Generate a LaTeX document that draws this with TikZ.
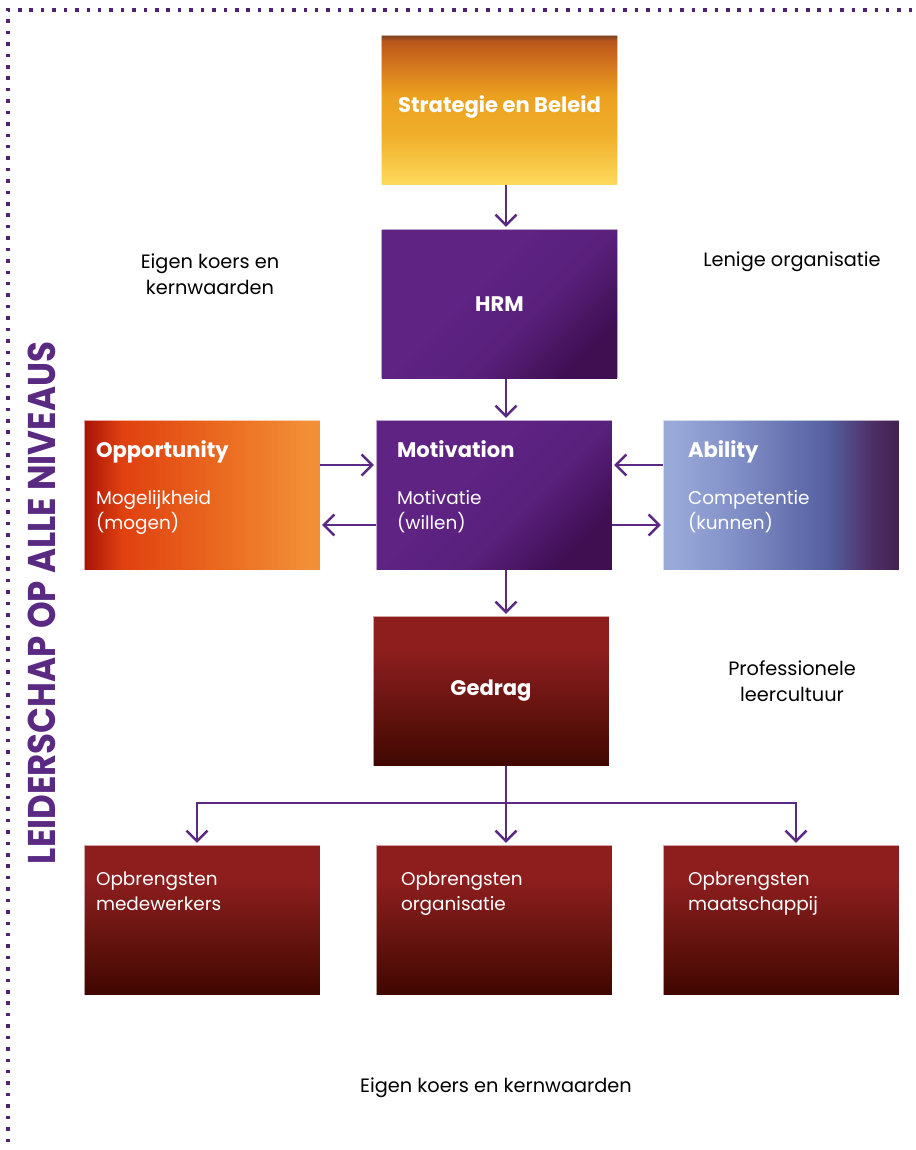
\documentclass[tikz,border=0pt]{standalone}
\usepackage{fontspec}
\setmainfont{Poppins}
\usetikzlibrary{arrows.meta}

\definecolor{lila}{HTML}{5A2A82}
\definecolor{stiplila}{HTML}{4E2372}
\definecolor{geel}{HTML}{FFDA5C}
\definecolor{goud}{HTML}{F0AE2A}
\definecolor{oranjeA}{HTML}{ECA020}
\definecolor{oranjeB}{HTML}{C8661C}
\definecolor{bruinA}{HTML}{B8561C}
\definecolor{bruinB}{HTML}{7A3E20}
\definecolor{paarsA}{HTML}{5E2383}
\definecolor{paarsB}{HTML}{3F0F52}
\definecolor{roodA}{HTML}{A81308}
\definecolor{roodB}{HTML}{E0400F}
\definecolor{oranjeC}{HTML}{EC7224}
\definecolor{oranjeD}{HTML}{F28E36}
\definecolor{blauwA}{HTML}{9AAAD8}
\definecolor{blauwB}{HTML}{8290C8}
\definecolor{blauwC}{HTML}{5460A0}
\definecolor{blauwD}{HTML}{4E3068}
\definecolor{blauwE}{HTML}{432050}
\definecolor{wijnA}{HTML}{8E1E1E}
\definecolor{wijnB}{HTML}{761816}
\definecolor{wijnC}{HTML}{5A100A}
\definecolor{wijnD}{HTML}{400600}

% kleurverlopen van de blokken
\pgfdeclareverticalshading{strategie}{100bp}{color(0bp)=(geel); color(25bp)=(geel);
  color(42bp)=(goud); color(55bp)=(oranjeA); color(69bp)=(oranjeB);
  color(73bp)=(bruinA); color(75bp)=(bruinB); color(100bp)=(bruinB)}
\pgfdeclareverticalshading{paars}{100bp}{color(0bp)=(paarsB); color(25bp)=(paarsB);
  color(42bp)=(paarsA!85!paarsB); color(58bp)=(paarsA); color(100bp)=(paarsA)}
\pgfdeclarehorizontalshading{kans}{100bp}{color(0bp)=(roodA); color(25bp)=(roodA);
  color(33bp)=(roodB); color(58bp)=(oranjeC); color(72bp)=(oranjeD); color(100bp)=(oranjeD)}
\pgfdeclarehorizontalshading{kunde}{100bp}{color(0bp)=(blauwA); color(27bp)=(blauwA);
  color(40bp)=(blauwB); color(60bp)=(blauwC); color(69bp)=(blauwD); color(75bp)=(blauwE);
  color(100bp)=(blauwE)}
\pgfdeclareverticalshading{wijn}{100bp}{color(0bp)=(wijnD); color(25bp)=(wijnD);
  color(38bp)=(wijnC); color(52bp)=(wijnB); color(64bp)=(wijnA); color(100bp)=(wijnA)}

\begin{document}
\begin{tikzpicture}[x=0.02cm, y=-0.02cm,
  blok/.style={rectangle, minimum width=4.72cm, minimum height=3cm, inner sep=0pt,
    draw=white, draw opacity=0.6, line width=0.4pt},
  pijl/.style={draw=lila, line width=1.4pt, shorten >=1pt,
    -{Straight Barb[length=6pt,width=12pt]}},
  lijn/.style={draw=lila, line width=1.4pt},
  kop/.style={text=white, inner sep=0pt, font=\bfseries\fontsize{12}{14}\selectfont},
  sub/.style={text=white, inner sep=0pt, align=left, anchor=north west,
    font=\fontsize{10.5}{14.2}\selectfont},
  zij/.style={text=black, inner sep=0pt, align=center,
    font=\fontsize{11}{14.8}\selectfont}]
\useasboundingbox (0,0) rectangle (916,1150);

% stippelrand
\draw [stiplila, line width=2pt, dash pattern=on 2pt off 4.5pt] (8,1142) -- (8,10) -- (916,10);
\node [rotate=90, text=lila, inner sep=0pt, font=\bfseries\fontsize{22}{22}\selectfont] (leider)
  at (42,603) {\scalebox{0.88}[1]{LEIDERSCHAP OP ALLE NIVEAUS}};

% blokken
\node [blok, shading=strategie] (strat) at (499.5,110) {};
\node [blok, shading=paars, shading angle=45] (hrm) at (499.5,304) {};
\node [blok, shading=kans] (opp) at (202,495) {};
\node [blok, shading=paars, shading angle=45] (mot) at (494,495) {};
\node [blok, shading=kunde] (abil) at (781,495) {};
\node [blok, shading=wijn] (gedrag) at (491,691) {};
\node [blok, shading=wijn] (out1) at (202,920) {};
\node [blok, shading=wijn] (out2) at (494,920) {};
\node [blok, shading=wijn] (out3) at (781,920) {};

% teksten in de blokken
\node [kop] (strat-t) at ([yshift=1.5pt]strat.center) {Strategie en Beleid};
\node [kop] (hrm-t) at (hrm.center) {HRM};
\node [kop] (gedrag-t) at (gedrag.center) {Gedrag};
\node [kop, anchor=north west] (opp-t) at ([shift={(12,21)}]opp.north west) {Opportunity};
\node [sub] (opp-s) at ([shift={(12,70)}]opp.north west) {Mogelijkheid\\(mogen)};
\node [kop, anchor=north west] (mot-t) at ([shift={(21,21)}]mot.north west) {Motivation};
\node [sub] (mot-s) at ([shift={(21,70)}]mot.north west) {Motivatie\\(willen)};
\node [kop, anchor=north west] (abil-t) at ([shift={(25,21)}]abil.north west) {Ability};
\node [sub] (abil-s) at ([shift={(25,70)}]abil.north west) {Competentie\\(kunnen)};
\node [sub] (out1-s) at ([shift={(12,27)}]out1.north west) {Opbrengsten\\medewerkers};
\node [sub] (out2-s) at ([shift={(25,27)}]out2.north west) {Opbrengsten\\organisatie};
\node [sub] (out3-s) at ([shift={(25,27)}]out3.north west) {Opbrengsten\\maatschappij};

% teksten naast de blokken
\node [zij] (koers) at (210,274) {Eigen koers en\\kernwaarden};
\node [zij] (lenig) at (792,262) {Lenige organisatie};
\node [zij] (leer) at (792,681) {Professionele\\leercultuur};
\node [zij] (koers-o) at (496,1088) {Eigen koers en kernwaarden};

% pijlen
\coordinate (spil) at (506,0);
\coordinate (hoog) at (0,465);
\coordinate (laag) at (0,525);
\draw [pijl] (strat.south -| spil) -- (hrm.north -| spil);
\draw [pijl] (hrm.south -| spil) -- (mot.north -| spil);
\draw [pijl] (mot.south -| spil) -- (gedrag.north -| spil);
\draw [pijl] (opp.east |- hoog) -- (mot.west |- hoog);
\draw [pijl] (mot.west |- laag) -- (opp.east |- laag);
\draw [pijl] (abil.west |- hoog) -- (mot.east |- hoog);
\draw [pijl] (mot.east |- laag) -- (abil.west |- laag);

% vertakking naar de opbrengsten
\coordinate (knoop) at (506,803);
\coordinate (tak1) at (197,803);
\coordinate (tak3) at (796,803);
\draw [lijn] (gedrag.south -| knoop) -- (knoop);
\draw [pijl] (knoop) -- (tak1) -- (out1.north -| tak1);
\draw [pijl] (knoop) -- (out2.north -| knoop);
\draw [pijl] (knoop) -- (tak3) -- (out3.north -| tak3);
\end{tikzpicture}
\end{document}
